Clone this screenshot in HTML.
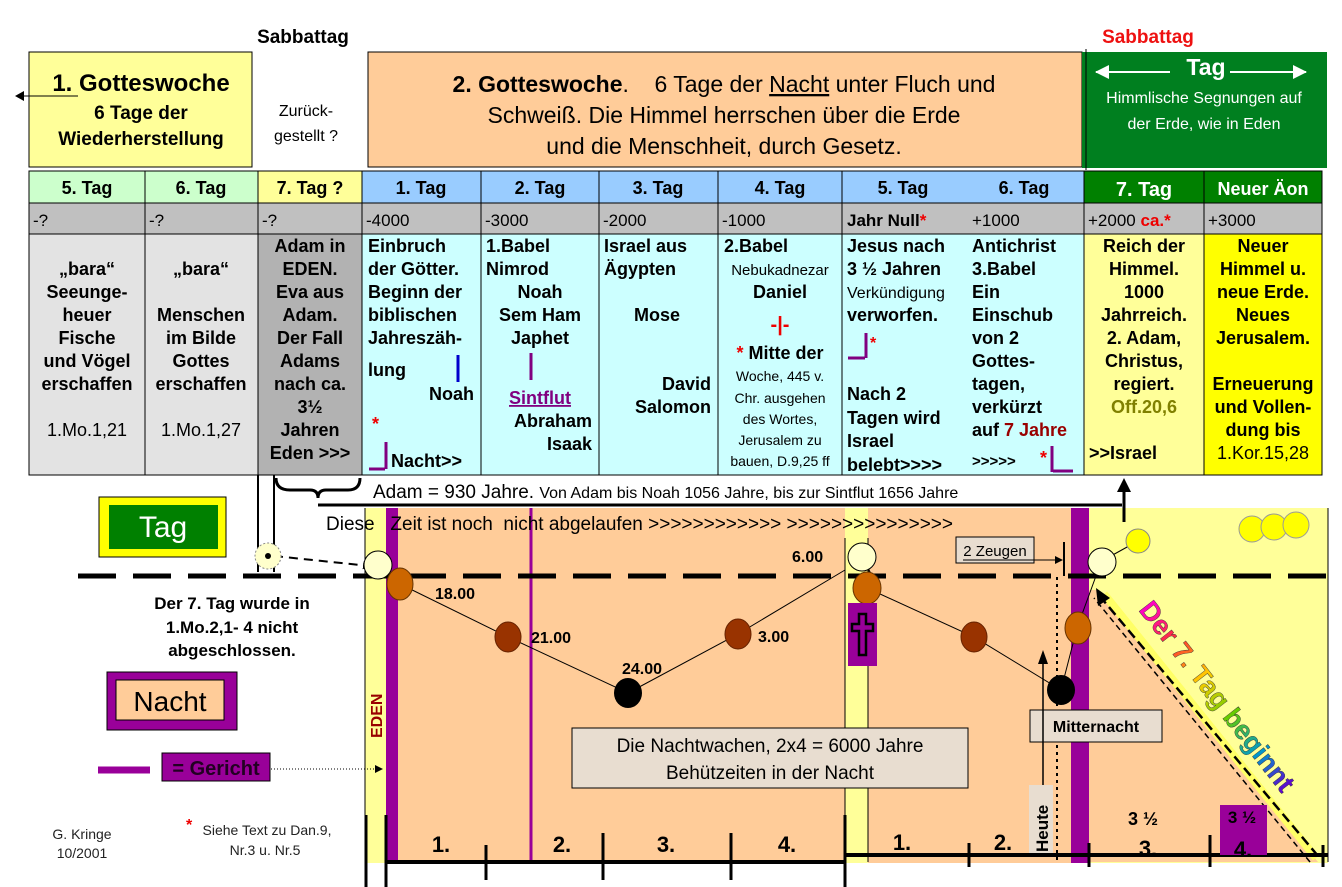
<!DOCTYPE html>
<html><head><meta charset="utf-8"><style>
html,body{margin:0;padding:0;background:#fff;}
svg{display:block;font-family:"Liberation Sans",Arial,sans-serif;}
.b{font-weight:bold;}
.pre{white-space:pre;}
</style></head><body>
<svg width="1342" height="887" viewBox="0 0 1342 887" xmlns="http://www.w3.org/2000/svg">
<defs>
<marker id="ah" markerWidth="8" markerHeight="8" refX="7" refY="4" orient="auto" markerUnits="userSpaceOnUse"><path d="M0,0 L8,4 L0,8z" fill="#000"/></marker>
<marker id="aw" markerWidth="14" markerHeight="14" refX="13" refY="7" orient="auto" markerUnits="userSpaceOnUse"><path d="M0,0 L14,7 L0,14z" fill="#fff"/></marker>
<linearGradient id="rb" x1="0" y1="0" x2="1" y2="0">
<stop offset="0" stop-color="#ff00cc"/><stop offset="0.2" stop-color="#ff3333"/><stop offset="0.4" stop-color="#ffcc00"/><stop offset="0.6" stop-color="#66cc00"/><stop offset="0.8" stop-color="#0099cc"/><stop offset="1" stop-color="#6600cc"/>
</linearGradient>
</defs>

<text x="303" y="43" class="b" font-size="19" text-anchor="middle">Sabbattag</text>
<text x="1148" y="43" class="b" font-size="19" text-anchor="middle" fill="#ee1111">Sabbattag</text>

<rect x="29" y="52" width="223" height="115" fill="#ffff99" stroke="#000"/>
<text x="141" y="91" class="b" font-size="24" text-anchor="middle">1. Gotteswoche</text>
<text x="141" y="119" class="b" font-size="19" text-anchor="middle">6 Tage der</text>
<text x="141" y="145" class="b" font-size="19" text-anchor="middle">Wiederherstellung</text>
<line x1="78" y1="96" x2="22" y2="96" stroke="#000" stroke-width="1"/>
<path d="M15,96 L24,91 L24,101z" fill="#000"/>

<text x="306" y="116" font-size="16" text-anchor="middle">Zurück-</text>
<text x="306" y="141" font-size="16" text-anchor="middle">gestellt ?</text>

<rect x="368" y="52" width="714" height="115" fill="#ffcc99" stroke="#000"/>
<text x="724" y="92" font-size="23" text-anchor="middle" class="pre"><tspan class="b">2. Gotteswoche</tspan>.    6 Tage der <tspan text-decoration="underline">Nacht</tspan> unter Fluch und</text>
<text x="724" y="123" font-size="23" text-anchor="middle">Schweiß. Die Himmel herrschen über die Erde</text>
<text x="724" y="154" font-size="23" text-anchor="middle">und die Menschheit, durch Gesetz.</text>

<rect x="1082" y="52" width="245" height="116" fill="#007f1f"/>
<line x1="1086" y1="49" x2="1086" y2="170" stroke="#000"/>
<text x="1206" y="75" class="b" font-size="23" fill="#fff" text-anchor="middle">Tag</text>
<line x1="1170" y1="72" x2="1096" y2="72" stroke="#fff" stroke-width="2" marker-end="url(#aw)"/>
<line x1="1230" y1="72" x2="1306" y2="72" stroke="#fff" stroke-width="2" marker-end="url(#aw)"/>
<text x="1204" y="103" font-size="16" fill="#fff" text-anchor="middle">Himmlische Segnungen auf</text>
<text x="1204" y="129" font-size="16" fill="#fff" text-anchor="middle">der Erde, wie in Eden</text>

<g stroke="#000" stroke-width="1">
<rect x="29" y="171" width="116" height="32" fill="#ccffcc"/>
<rect x="145" y="171" width="113" height="32" fill="#ccffcc"/>
<rect x="258" y="171" width="104" height="32" fill="#ffff99"/>
<rect x="362" y="171" width="119" height="32" fill="#99ccff"/>
<rect x="481" y="171" width="118" height="32" fill="#99ccff"/>
<rect x="599" y="171" width="119" height="32" fill="#99ccff"/>
<rect x="718" y="171" width="124" height="32" fill="#99ccff"/>
<rect x="842" y="171" width="242" height="32" fill="#99ccff"/>
<rect x="1084" y="171" width="120" height="32" fill="#008000"/>
<rect x="1204" y="171" width="118" height="32" fill="#008000"/>
<rect x="29" y="203" width="1293" height="31" fill="#c0c0c0"/>
<rect x="29" y="234" width="116" height="241" fill="#e3e3e3"/>
<rect x="145" y="234" width="113" height="241" fill="#e3e3e3"/>
<rect x="258" y="234" width="104" height="241" fill="#b2b2b2"/>
<rect x="362" y="234" width="722" height="241" fill="#ccffff"/>
<rect x="1084" y="234" width="120" height="241" fill="#ffff99"/>
<rect x="1204" y="234" width="118" height="241" fill="#ffff00"/>
<line x1="145" y1="203" x2="145" y2="234"/><line x1="258" y1="203" x2="258" y2="234"/>
<line x1="362" y1="203" x2="362" y2="234"/><line x1="481" y1="203" x2="481" y2="475"/>
<line x1="599" y1="203" x2="599" y2="475"/><line x1="718" y1="203" x2="718" y2="475"/>
<line x1="842" y1="203" x2="842" y2="475"/><line x1="1084" y1="203" x2="1084" y2="234"/>
<line x1="1204" y1="203" x2="1204" y2="234"/>
</g>
<g class="b" font-size="18" text-anchor="middle">
<text x="87" y="194">5. Tag</text><text x="201" y="194">6. Tag</text><text x="310" y="194">7. Tag ?</text>
<text x="421" y="194">1. Tag</text><text x="540" y="194">2. Tag</text><text x="658" y="194">3. Tag</text>
<text x="780" y="194">4. Tag</text><text x="903" y="194">5. Tag</text><text x="1024" y="194">6. Tag</text>
<text x="1144" y="196" fill="#fff" font-size="20">7. Tag</text><text x="1263" y="195" fill="#fff">Neuer Äon</text>
</g>
<g font-size="17">
<text x="33" y="226">-?</text><text x="149" y="226">-?</text><text x="262" y="226">-?</text>
<text x="366" y="226">-4000</text><text x="485" y="226">-3000</text><text x="603" y="226">-2000</text>
<text x="722" y="226">-1000</text><text x="847" y="226" class="b">Jahr Null<tspan fill="#ee0000">*</tspan></text>
<text x="972" y="226">+1000</text><text x="1088" y="226">+2000 <tspan fill="#ee0000" class="b">ca.*</tspan></text>
<text x="1208" y="226">+3000</text>
</g>

<g class="b" font-size="18" text-anchor="middle">
<text x="87" y="275">„bara“</text><text x="87" y="298">Seeunge-</text><text x="87" y="321">heuer</text>
<text x="87" y="344">Fische</text><text x="87" y="367">und Vögel</text><text x="87" y="390">erschaffen</text>
<text x="87" y="436" font-weight="normal">1.Mo.1,21</text>
<text x="201" y="275">„bara“</text><text x="201" y="321">Menschen</text><text x="201" y="344">im Bilde</text>
<text x="201" y="367">Gottes</text><text x="201" y="390">erschaffen</text>
<text x="201" y="436" font-weight="normal">1.Mo.1,27</text>
<text x="310" y="252">Adam in</text><text x="310" y="275">EDEN.</text><text x="310" y="298">Eva aus</text>
<text x="310" y="321">Adam.</text><text x="310" y="344">Der Fall</text><text x="310" y="367">Adams</text>
<text x="310" y="390">nach ca.</text><text x="310" y="413">3½</text><text x="310" y="436">Jahren</text>
<text x="310" y="459">Eden &gt;&gt;&gt;</text>
</g>
<g class="b" font-size="18">
<text x="368" y="252">Einbruch</text><text x="368" y="275">der Götter.</text><text x="368" y="298">Beginn der</text>
<text x="368" y="321">biblischen</text><text x="368" y="344">Jahreszäh-</text><text x="368" y="376">lung</text>
<text x="474" y="400" text-anchor="end">Noah</text>
<text x="372" y="430" fill="#ee0000">*</text>
<text x="391" y="467">Nacht&gt;&gt;</text>
<text x="486" y="252">1.Babel</text><text x="486" y="275">Nimrod</text>
<text x="540" y="298" text-anchor="middle">Noah</text><text x="540" y="321" text-anchor="middle">Sem Ham</text>
<text x="540" y="344" text-anchor="middle">Japhet</text>
<text x="540" y="404" text-anchor="middle" fill="#800080" text-decoration="underline">Sintflut</text>
<text x="592" y="427" text-anchor="end">Abraham</text><text x="592" y="450" text-anchor="end">Isaak</text>
<text x="604" y="252">Israel aus</text><text x="604" y="275">Ägypten</text>
<text x="657" y="321" text-anchor="middle">Mose</text>
<text x="711" y="390" text-anchor="end">David</text><text x="711" y="413" text-anchor="end">Salomon</text>
<text x="724" y="252">2.Babel</text>
<text x="780" y="275" text-anchor="middle" font-weight="normal" font-size="15">Nebukadnezar</text>
<text x="780" y="298" text-anchor="middle">Daniel</text>
<text x="780" y="331" text-anchor="middle" fill="#ee0000" font-size="20">-|-</text>
<text x="780" y="359" text-anchor="middle"><tspan fill="#ee0000">*</tspan> Mitte der</text>
<g font-weight="normal" font-size="14" text-anchor="middle">
<text x="780" y="381">Woche, 445 v.</text><text x="780" y="403">Chr. ausgehen</text><text x="780" y="424">des Wortes,</text>
<text x="780" y="445">Jerusalem zu</text><text x="780" y="466">bauen, D.9,25 ff</text></g>
<text x="847" y="252">Jesus nach</text><text x="847" y="275">3 ½ Jahren</text>
<text x="847" y="298" font-weight="normal" font-size="16">Verkündigung</text><text x="847" y="321">verworfen.</text>
<text x="870" y="348" fill="#ee0000" font-size="16">*</text>
<text x="847" y="400">Nach 2</text><text x="847" y="424">Tagen wird</text><text x="847" y="447">Israel</text>
<text x="847" y="471">belebt&gt;&gt;&gt;&gt;</text>
<text x="972" y="252">Antichrist</text><text x="972" y="275">3.Babel</text><text x="972" y="298">Ein</text>
<text x="972" y="321">Einschub</text><text x="972" y="344">von 2</text><text x="972" y="367">Gottes-</text>
<text x="972" y="390">tagen,</text><text x="972" y="413">verkürzt</text>
<text x="972" y="436">auf <tspan fill="#990000">7 Jahre</tspan></text>
<text x="972" y="466" font-size="15">&gt;&gt;&gt;&gt;&gt;</text><text x="1040" y="464" fill="#ee0000">*</text>
<g text-anchor="middle">
<text x="1144" y="252">Reich der</text><text x="1144" y="275">Himmel.</text><text x="1144" y="298">1000</text>
<text x="1144" y="321">Jahrreich.</text><text x="1144" y="344">2. Adam,</text><text x="1144" y="367">Christus,</text>
<text x="1144" y="390">regiert.</text><text x="1144" y="413" fill="#808000">Off.20,6</text>
<text x="1263" y="252">Neuer</text><text x="1263" y="275">Himmel u.</text><text x="1263" y="298">neue Erde.</text>
<text x="1263" y="321">Neues</text><text x="1263" y="344">Jerusalem.</text>
<text x="1263" y="390">Erneuerung</text><text x="1263" y="413">und Vollen-</text><text x="1263" y="436">dung bis</text>
<text x="1263" y="459" font-weight="normal">1.Kor.15,28</text>
</g>
<text x="1089" y="459">&gt;&gt;Israel</text>
</g>
<line x1="458" y1="355" x2="458" y2="382" stroke="#0000cc" stroke-width="3"/>
<path d="M369,469 H385 M386,442 V469" stroke="#800080" stroke-width="3" fill="none"/>
<line x1="531" y1="353" x2="531" y2="380" stroke="#800080" stroke-width="3"/>
<path d="M848,358 H865 M866,333 V358" stroke="#800080" stroke-width="3" fill="none"/>
<path d="M1052,446 V472 M1053,471 H1073" stroke="#800080" stroke-width="3" fill="none"/>

<rect x="365" y="508" width="963" height="355" fill="#ffff99"/>
<rect x="386" y="508" width="459" height="355" fill="#ffcc99"/>
<rect x="868" y="508" width="204" height="355" fill="#ffcc99"/>
<path d="M1088,590 L1098,590 L1318,862 L1088,862z" fill="#ffcc99"/>
<line x1="365" y1="508" x2="365" y2="862" stroke="#000"/>
<line x1="845" y1="538" x2="845" y2="862" stroke="#000"/>
<line x1="868" y1="538" x2="868" y2="862" stroke="#000"/>
<line x1="1328" y1="508" x2="1328" y2="862" stroke="#000"/>
<rect x="386" y="508" width="12" height="355" fill="#990099"/>
<line x1="531" y1="508" x2="531" y2="862" stroke="#990099" stroke-width="3"/>
<rect x="1071" y="508" width="18" height="355" fill="#990099"/>
<line x1="1057" y1="577" x2="1057" y2="860" stroke="#000" stroke-width="2" stroke-dasharray="3,4"/>

<line x1="258" y1="475" x2="258" y2="572" stroke="#000" stroke-width="2"/>
<line x1="274" y1="475" x2="274" y2="572" stroke="#000" stroke-width="2"/>
<path d="M276,478 Q276,490 290,490 L310,490 Q318,490 318,498 Q318,490 326,490 L348,490 Q360,490 360,478" stroke="#000" stroke-width="3" fill="none"/>
<text x="373" y="498" font-size="19">Adam = 930 Jahre. <tspan font-size="16">Von Adam bis Noah 1056 Jahre, bis zur Sintflut 1656 Jahre</tspan></text>
<line x1="318" y1="505" x2="1122" y2="505" stroke="#000" stroke-width="3"/>
<line x1="1124" y1="522" x2="1124" y2="490" stroke="#000" stroke-width="3"/>
<path d="M1124,478 L1117,492 L1131,492z" fill="#000"/>
<text x="326" y="530" font-size="19" class="pre">Diese   Zeit ist noch  nicht abgelaufen &gt;&gt;&gt;&gt;&gt;&gt;&gt;&gt;&gt;&gt;&gt;&gt; &gt;&gt;&gt;&gt;&gt;&gt;&gt;&gt;&gt;&gt;&gt;&gt;&gt;&gt;&gt;</text>

<line x1="78" y1="576" x2="1328" y2="576" stroke="#000" stroke-width="5" stroke-dasharray="38,17"/>

<polyline points="400,584 508,637 628,693 738,634 845,570" fill="none" stroke="#000" stroke-width="1"/>
<polyline points="867,588 974,637 1061,690 1077,628 1100,565" fill="none" stroke="#000" stroke-width="1"/>
<line x1="862" y1="557" x2="875" y2="583" stroke="#000" stroke-width="2" marker-end="url(#ah)"/>
<line x1="1100" y1="562" x2="1138" y2="541" stroke="#000" stroke-width="1"/>
<line x1="274" y1="556" x2="370" y2="566" stroke="#000" stroke-width="2" stroke-dasharray="9,6" marker-end="url(#ah)"/>

<circle cx="268" cy="556" r="13" fill="#ffffcc" stroke="#888" stroke-dasharray="2,2"/>
<circle cx="268" cy="556" r="3" fill="#000"/>
<circle cx="378" cy="565" r="14" fill="#ffffcc" stroke="#000"/>
<circle cx="862" cy="557" r="14" fill="#ffffcc" stroke="#000"/>
<circle cx="1102" cy="562" r="14" fill="#ffffcc" stroke="#000"/>
<circle cx="1138" cy="541" r="12" fill="#ffff00" stroke="#888"/>
<circle cx="1252" cy="529" r="13" fill="#ffff00" stroke="#999"/>
<circle cx="1274" cy="527" r="13" fill="#ffff00" stroke="#999"/>
<circle cx="1296" cy="525" r="13" fill="#ffff00" stroke="#999"/>
<ellipse cx="400" cy="584" rx="13" ry="16" fill="#cc6600" stroke="#663300"/>
<ellipse cx="508" cy="637" rx="13" ry="15" fill="#993300" stroke="#662200"/>
<ellipse cx="628" cy="693" rx="14" ry="15" fill="#000"/>
<ellipse cx="738" cy="634" rx="13" ry="15" fill="#993300" stroke="#662200"/>
<ellipse cx="867" cy="588" rx="14" ry="16" fill="#cc6600" stroke="#663300"/>
<ellipse cx="974" cy="637" rx="13" ry="15" fill="#993300" stroke="#662200"/>
<ellipse cx="1061" cy="690" rx="14" ry="15" fill="#000"/>
<ellipse cx="1078" cy="628" rx="13" ry="16" fill="#cc6600" stroke="#663300"/>

<g class="b" font-size="16">
<text x="435" y="599">18.00</text><text x="531" y="643">21.00</text>
<text x="622" y="674">24.00</text><text x="758" y="642">3.00</text><text x="792" y="562">6.00</text>
</g>

<rect x="848" y="603" width="29" height="63" fill="#990099"/>
<path d="M859,614 h7 v10 h7 v7 h-7 v24 h-7 v-24 h-7 v-7 h7z" fill="#990099" stroke="#000" stroke-width="2.5"/>

<rect x="956" y="537" width="78" height="26" fill="#e8ddd0" stroke="#000"/>
<text x="995" y="556" font-size="15" text-anchor="middle">2 Zeugen</text>
<line x1="963" y1="560" x2="1062" y2="560" stroke="#000" marker-end="url(#ah)"/>
<line x1="1064" y1="542" x2="1064" y2="576" stroke="#000" stroke-width="2"/>

<rect x="1030" y="710" width="132" height="32" fill="#e8ddd0" stroke="#000"/>
<text x="1096" y="732" class="b" font-size="16" text-anchor="middle">Mitternacht</text>
<line x1="1043" y1="785" x2="1043" y2="662" stroke="#000" stroke-width="1.5"/>
<path d="M1043,650 L1038,664 L1048,664z" fill="#000"/>
<rect x="1029" y="785" width="24" height="70" fill="#e8ddd0"/>
<text x="0" y="0" class="b" font-size="17" transform="translate(1048,852) rotate(-90)">Heute</text>

<rect x="572" y="728" width="396" height="60" fill="#e8ddd0" stroke="#000"/>
<text x="770" y="752" font-size="19" text-anchor="middle">Die Nachtwachen, 2x4 = 6000 Jahre</text>
<text x="770" y="779" font-size="19" text-anchor="middle">Behützeiten in der Nacht</text>

<text x="0" y="0" class="b" font-size="16" fill="#990000" transform="translate(382,738) rotate(-90)">EDEN</text>

<line x1="1316" y1="858" x2="1104" y2="594" stroke="#ffff66" stroke-width="8"/>
<line x1="1318" y1="856" x2="1098" y2="594" stroke="#000" stroke-width="2.5" stroke-dasharray="10,5"/>
<line x1="1310" y1="862" x2="1094" y2="598" stroke="#000" stroke-width="1.5" stroke-dasharray="6,4"/>
<path d="M1096,588 L1098,606 L1110,598z" fill="#000"/>
<text x="0" y="0" class="b" font-size="27" fill="url(#rb)" stroke="#333" stroke-width="0.4" transform="translate(1138,610) rotate(52)">Der 7. Tag beginnt</text>

<line x1="386" y1="862" x2="845" y2="862" stroke="#000" stroke-width="4"/>
<line x1="845" y1="855" x2="1328" y2="855" stroke="#000" stroke-width="4"/>
<g stroke="#000" stroke-width="3">
<line x1="366" y1="815" x2="366" y2="887"/><line x1="386" y1="815" x2="386" y2="887"/>
<line x1="486" y1="845" x2="486" y2="880"/><line x1="603" y1="833" x2="603" y2="880"/>
<line x1="731" y1="833" x2="731" y2="880"/><line x1="845" y1="815" x2="845" y2="887"/>
<line x1="969" y1="843" x2="969" y2="867"/><line x1="1089" y1="843" x2="1089" y2="867"/>
<line x1="1210" y1="835" x2="1210" y2="867"/><line x1="1323" y1="845" x2="1323" y2="867"/>
</g>
<rect x="1220" y="805" width="47" height="50" fill="#990099"/>
<g class="b" font-size="22" text-anchor="middle">
<text x="441" y="852">1.</text><text x="562" y="852">2.</text><text x="666" y="852">3.</text>
<text x="787" y="852">4.</text><text x="902" y="850">1.</text><text x="1003" y="850">2.</text>
<text x="1148" y="856">3.</text><text x="1243" y="857">4.</text>
<text x="1143" y="825" font-size="18">3 ½</text><text x="1242" y="823" font-size="17">3 ½</text>
</g>

<rect x="99" y="497" width="127" height="60" fill="#ffff00" stroke="#000"/>
<rect x="109" y="505" width="109" height="44" fill="#008000"/>
<text x="163" y="537" font-size="30" fill="#fff" text-anchor="middle">Tag</text>
<g class="b" font-size="17" text-anchor="middle">
<text x="232" y="609">Der 7. Tag wurde in</text><text x="232" y="633">1.Mo.2,1- 4 nicht</text>
<text x="232" y="656">abgeschlossen.</text></g>
<rect x="107" y="672" width="130" height="58" fill="#990099" stroke="#000"/>
<rect x="116" y="680" width="108" height="40" fill="#ffcc99" stroke="#000"/>
<text x="170" y="711" font-size="28" text-anchor="middle">Nacht</text>
<line x1="98" y1="770" x2="150" y2="770" stroke="#990099" stroke-width="7"/>
<rect x="162" y="753" width="108" height="28" fill="#990099" stroke="#000"/>
<text x="216" y="775" class="b" font-size="20" text-anchor="middle" fill="#220022">= Gericht</text>
<line x1="271" y1="769" x2="382" y2="769" stroke="#000" stroke-dasharray="1,2" marker-end="url(#ah)"/>
<text x="82" y="839" font-size="14" text-anchor="middle" fill="#222">G. Kringe</text>
<text x="82" y="858" font-size="14" text-anchor="middle" fill="#222">10/2001</text>
<text x="186" y="830" font-size="16" fill="#ee0000" class="b">*</text>
<text x="267" y="835" font-size="14" text-anchor="middle" fill="#222">Siehe Text zu Dan.9,</text>
<text x="265" y="855" font-size="14" text-anchor="middle" fill="#222">Nr.3 u. Nr.5</text>
</svg>
</body></html>
